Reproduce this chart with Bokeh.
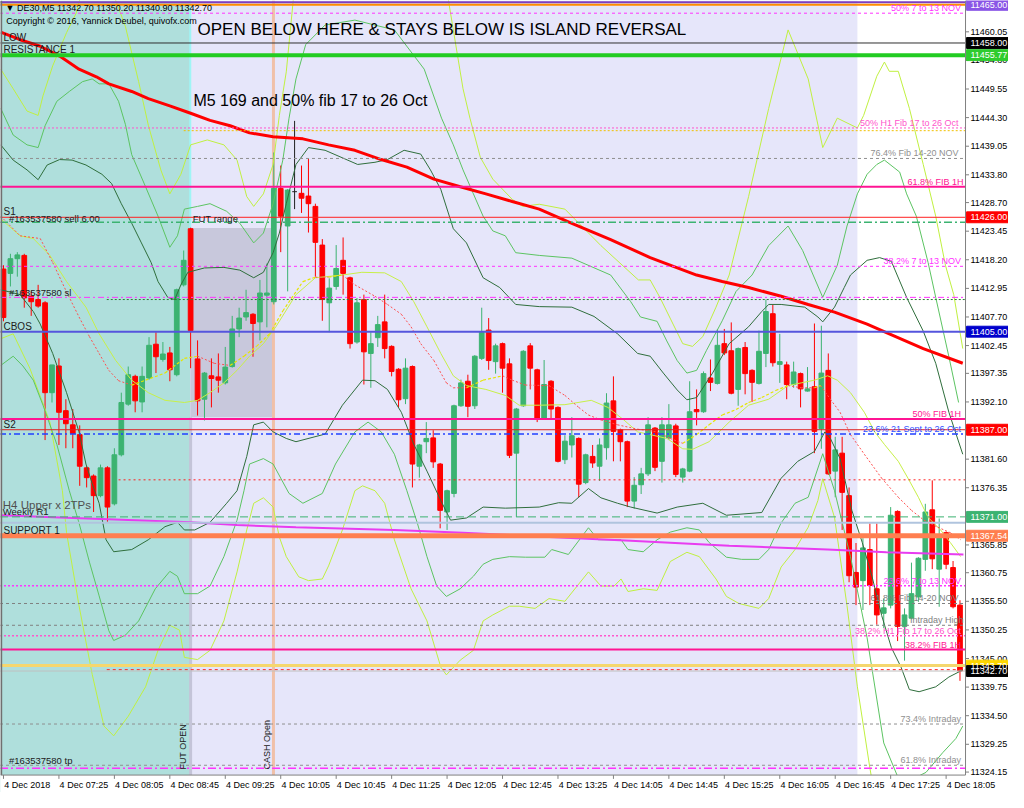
import numpy as np
from bokeh.plotting import figure
from bokeh.models import Range1d, BoxAnnotation, Label
from bokeh.core.properties import value
from bokeh.embed import file_html
from bokeh.resources import INLINE

# DE30 M5 candles, 4 Dec 2018 06:45 .. 18:15 (bar index 0..138)
opens = [11416.5, 11415.7, 11418.4, 11419.0, 11411.5, 11410.9, 11410.3, 11393.8, 11398.7, 11390.5,
         11387.9, 11386.1, 11380.0, 11378.5, 11374.9, 11380.0, 11373.4, 11382.4, 11391.7, 11396.8,
         11392.1, 11396.5, 11402.7, 11399.9, 11401.1, 11397.1, 11413.6, 11423.9, 11400.0, 11392.6,
         11396.9, 11396.7, 11395.6, 11398.6, 11405.5, 11407.7, 11408.2, 11406.8, 11411.7, 11410.5,
         11431.3, 11424.4, 11430.7, 11430.4, 11429.9, 11428.0, 11420.9, 11410.3, 11413.3, 11418.1,
         11414.9, 11403.1, 11410.9, 11401.0, 11403.9, 11406.8, 11402.3, 11398.1, 11392.7, 11398.6,
         11380.3, 11384.8, 11385.5, 11380.7, 11371.9, 11375.3, 11391.4, 11395.9, 11391.4, 11400.1,
         11405.3, 11399.5, 11402.8, 11399.1, 11382.7, 11391.4, 11402.4, 11398.0, 11389.1, 11395.9,
         11391.1, 11381.5, 11384.2, 11385.4, 11377.3, 11382.1, 11380.3, 11383.7, 11392.3, 11387.0,
         11384.8, 11373.9, 11376.9, 11378.9, 11387.3, 11381.2, 11385.5, 11387.7, 11378.3, 11379.4,
         11390.7, 11390.3, 11396.5, 11395.5, 11402.8, 11401.5, 11394.4, 11402.1, 11397.9, 11395.5,
         11401.0, 11408.3, 11399.0, 11398.9, 11395.3, 11397.3, 11394.1, 11394.9, 11387.2, 11397.9,
         11379.4, 11382.7, 11374.9, 11360.8, 11359.3, 11365.0, 11357.8, 11353.3, 11354.8, 11372.0,
         11350.9, 11352.4, 11356.3, 11363.2, 11372.3, 11361.4, 11368.1, 11361.7, 11354.8]
highs = [11417.2, 11419.3, 11419.6, 11419.3, 11412.4, 11413.6, 11410.6, 11398.9, 11400.1, 11392.6,
         11390.8, 11387.8, 11380.3, 11378.8, 11380.6, 11380.3, 11383.6, 11393.8, 11398.6, 11397.1,
         11398.6, 11404.0, 11404.9, 11403.1, 11402.2, 11412.9, 11419.9, 11424.1, 11403.4, 11397.6,
         11400.1, 11401.0, 11402.2, 11407.9, 11409.4, 11412.7, 11408.4, 11414.5, 11417.5, 11437.9,
         11435.5, 11431.2, 11443.7, 11435.5, 11436.7, 11428.5, 11422.0, 11414.8, 11420.9, 11422.3,
         11415.1, 11411.2, 11411.8, 11404.9, 11407.9, 11411.8, 11402.5, 11398.3, 11400.1, 11398.8,
         11384.4, 11388.4, 11386.9, 11380.9, 11376.0, 11391.6, 11396.2, 11397.1, 11400.7, 11409.4,
         11407.5, 11402.8, 11403.0, 11400.1, 11391.0, 11401.6, 11402.9, 11398.2, 11399.8, 11396.1,
         11391.3, 11386.0, 11389.3, 11385.6, 11382.6, 11384.2, 11385.4, 11393.7, 11396.8, 11387.2,
         11385.0, 11378.3, 11380.0, 11389.3, 11387.5, 11389.3, 11391.7, 11388.1, 11380.0, 11395.9,
         11394.4, 11397.7, 11399.9, 11405.5, 11405.5, 11406.7, 11402.1, 11403.1, 11398.1, 11405.2,
         11410.9, 11409.9, 11404.6, 11399.5, 11399.5, 11397.5, 11398.5, 11406.5, 11406.1, 11401.0,
         11385.7, 11385.7, 11376.4, 11366.2, 11367.1, 11369.8, 11369.8, 11356.0, 11372.8, 11372.2,
         11354.2, 11362.6, 11363.6, 11373.4, 11377.7, 11370.7, 11368.3, 11362.9, 11355.7]
lows = [11406.9, 11413.3, 11415.1, 11409.4, 11407.9, 11409.4, 11385.1, 11392.0, 11384.2, 11383.6,
        11383.6, 11376.7, 11376.4, 11371.9, 11374.6, 11370.1, 11373.1, 11382.1, 11391.4, 11390.2,
        11390.2, 11396.2, 11397.4, 11399.5, 11395.9, 11396.8, 11413.3, 11398.3, 11389.6, 11388.7,
        11391.1, 11393.8, 11395.3, 11398.4, 11404.0, 11407.0, 11400.4, 11403.4, 11405.8, 11410.0,
        11419.6, 11412.4, 11427.5, 11426.8, 11423.2, 11415.1, 11407.0, 11404.9, 11412.7, 11411.8,
        11401.9, 11402.8, 11395.3, 11394.7, 11402.2, 11400.1, 11396.8, 11391.1, 11391.7, 11376.4,
        11378.2, 11382.7, 11380.0, 11368.9, 11368.6, 11374.6, 11391.2, 11389.3, 11390.8, 11399.8,
        11398.0, 11397.3, 11393.8, 11381.8, 11371.0, 11391.2, 11394.4, 11388.4, 11389.0, 11389.0,
        11381.0, 11380.7, 11381.9, 11374.6, 11377.0, 11380.0, 11377.6, 11381.5, 11381.2, 11381.2,
        11372.8, 11372.5, 11375.2, 11378.5, 11379.4, 11377.3, 11385.1, 11378.3, 11377.3, 11379.2,
        11387.8, 11390.1, 11394.1, 11395.3, 11400.7, 11393.5, 11391.4, 11393.5, 11392.1, 11395.3,
        11398.5, 11398.6, 11395.6, 11392.6, 11394.7, 11391.1, 11394.0, 11382.7, 11383.5, 11378.7,
        11374.6, 11368.6, 11359.0, 11354.8, 11353.9, 11354.8, 11351.2, 11350.6, 11354.2, 11348.2,
        11344.6, 11352.2, 11355.4, 11361.1, 11361.4, 11354.5, 11361.4, 11354.2, 11340.9]
closes = [11407.6, 11418.4, 11419.1, 11411.2, 11410.5, 11409.7, 11393.8, 11398.9, 11390.2, 11388.1,
          11386.3, 11380.3, 11378.2, 11374.9, 11380.0, 11372.8, 11382.4, 11392.0, 11397.1, 11392.3,
          11396.8, 11402.5, 11400.4, 11400.9, 11398.0, 11412.7, 11418.1, 11405.2, 11392.3, 11397.4,
          11396.4, 11396.1, 11398.5, 11405.5, 11407.5, 11408.5, 11406.5, 11412.1, 11412.1, 11431.3,
          11426.2, 11431.0, 11430.7, 11429.5, 11428.5, 11421.4, 11410.9, 11413.0, 11416.6, 11415.7,
          11402.8, 11410.3, 11401.3, 11402.8, 11406.3, 11401.9, 11397.7, 11392.5, 11398.3, 11380.7,
          11384.2, 11385.4, 11381.1, 11372.2, 11375.8, 11391.4, 11395.6, 11391.3, 11400.5, 11404.9,
          11399.7, 11402.4, 11398.3, 11382.3, 11390.8, 11401.4, 11398.3, 11389.1, 11395.3, 11390.8,
          11381.2, 11384.9, 11385.9, 11377.0, 11382.4, 11380.9, 11384.2, 11391.9, 11386.7, 11384.8,
          11373.9, 11376.8, 11378.9, 11387.9, 11380.1, 11387.9, 11387.9, 11378.8, 11379.8, 11390.3,
          11390.3, 11397.3, 11395.7, 11402.5, 11401.1, 11393.7, 11401.9, 11397.3, 11395.7, 11401.4,
          11408.7, 11399.3, 11399.5, 11395.3, 11397.6, 11394.5, 11394.5, 11386.7, 11397.4, 11378.9,
          11383.3, 11375.5, 11360.2, 11358.1, 11365.3, 11358.4, 11353.0, 11354.3, 11371.3, 11350.9,
          11353.0, 11356.9, 11363.4, 11371.9, 11363.3, 11367.7, 11362.3, 11354.5, 11342.7]

# time axis: one label every 8 bars
tick_bars = list(range(0, 137, 8))
tick_labels = ["4 Dec 2018", "4 Dec 07:25", "4 Dec 08:05", "4 Dec 08:45", "4 Dec 09:25", "4 Dec 10:05",
               "4 Dec 10:45", "4 Dec 11:25", "4 Dec 12:05", "4 Dec 12:45", "4 Dec 13:25", "4 Dec 14:05",
               "4 Dec 14:45", "4 Dec 15:25", "4 Dec 16:05", "4 Dec 16:45", "4 Dec 17:25", "4 Dec 18:05"]

price_ticks = [11324.15, 11329.25, 11334.50, 11339.75, 11345.00, 11350.25, 11355.50, 11360.75, 11365.85,
               11371.10, 11376.35, 11381.60, 11386.85, 11392.10, 11397.35, 11402.45, 11407.70, 11412.95,
               11418.20, 11423.45, 11428.70, 11433.80, 11439.05, 11444.30, 11449.55, 11454.80, 11460.05]

# MA 169 (thick red)
ma169_x = [-0.4, 2.4, 5.3, 8.1, 10.9, 13.4, 15.2, 18.5, 20.9, 24.1, 27.0, 29.8, 32.7, 35.5, 38.9, 43.2,
           46.9, 50.7, 54.5, 58.2, 62.1, 65.9, 69.6, 73.4, 77.3, 82.0, 87.6, 93.3, 100.0, 103.7, 107.5,
           112.2, 116.1, 119.9, 124.6, 127.8, 132.7, 138.4]
ma169_y = [11460.0, 11458.6, 11457.4, 11455.6, 11453.2, 11451.8, 11450.5, 11449.1, 11447.8, 11446.4,
           11445.1, 11443.8, 11442.8, 11441.5, 11440.8, 11440.4, 11439.3, 11438.3, 11436.6, 11435.2,
           11433.0, 11431.6, 11430.3, 11428.9, 11427.5, 11424.9, 11421.9, 11418.6, 11415.4, 11414.2,
           11413.1, 11411.5, 11410.0, 11408.6, 11406.4, 11404.6, 11401.9, 11399.2]

# bands: dark green upper / lower
dgu_x = [-0.4, 1.4, 3.4, 5.0, 6.3, 8.1, 9.9, 11.9, 14.2, 15.6, 17.0, 18.5, 19.9, 21.3, 22.3, 23.7, 24.7,
         25.6, 26.6, 29.0, 31.8, 34.1, 36.1, 37.5, 38.9, 39.8, 40.8, 42.2, 44.0, 46.4, 51.1, 53.6, 55.4,
         57.8, 60.2, 61.6, 63.1, 64.9, 66.8, 69.2, 71.6, 73.9, 77.3, 82.0, 85.2, 88.6, 91.5, 93.3, 95.2,
         97.2, 98.6, 100.0, 102.3, 104.7, 107.5, 109.4, 110.4, 112.2, 115.6, 117.5, 118.2, 119.9, 121.3,
         122.2, 124.6, 126.4, 128.1, 130.3, 132.7, 134.5, 136.4, 138.4]
dgu_y = [11439.3, 11436.5, 11434.7, 11432.9, 11435.6, 11436.6, 11436.5, 11435.6, 11433.9, 11432.2,
         11428.5, 11424.9, 11421.3, 11417.7, 11414.2, 11411.3, 11410.9, 11413.6, 11415.9, 11416.7,
         11416.8, 11416.3, 11414.9, 11415.9, 11419.5, 11423.1, 11428.5, 11435.7, 11438.8, 11438.3,
         11435.7, 11436.1, 11436.6, 11438.3, 11437.6, 11434.7, 11431.1, 11423.9, 11421.3, 11414.9,
         11413.1, 11410.0, 11409.6, 11409.5, 11407.8, 11404.6, 11401.0, 11400.5, 11397.4, 11394.3,
         11392.5, 11392.9, 11397.4, 11402.8, 11405.9, 11408.7, 11410.0, 11410.0, 11409.5, 11407.7,
         11406.8, 11409.5, 11413.1, 11415.4, 11418.1, 11418.6, 11417.9, 11411.3, 11405.1, 11399.2,
         11390.2, 11382.5]
dgl_x = [-0.4, 2.4, 4.3, 5.3, 7.1, 9.1, 10.9, 11.9, 12.8, 13.8, 14.8, 15.9, 18.5, 20.9, 23.3, 25.1,
         26.1, 27.6, 29.8, 32.2, 33.7, 35.1, 36.1, 37.5, 38.9, 40.8, 42.2, 46.4, 48.9, 51.8, 53.6, 55.4,
         57.4, 59.2, 61.1, 63.1, 64.5, 66.8, 69.2, 72.4, 77.3, 80.1, 82.0, 84.4, 86.2, 88.6, 90.5, 94.3,
         97.2, 100.9, 104.3, 109.4, 112.2, 114.6, 117.0, 118.5, 119.3, 120.7, 122.4, 123.9, 125.3, 126.7,
         128.1, 129.5, 130.7, 132.1, 134.5, 136.4, 138.4]
dgl_y = [11412.7, 11411.8, 11408.7, 11406.4, 11401.0, 11393.8, 11386.6, 11380.7, 11377.1, 11373.5,
         11366.8, 11364.6, 11365.0, 11366.8, 11369.2, 11370.0, 11368.6, 11368.6, 11370.0, 11373.5,
         11375.8, 11382.1, 11387.9, 11388.4, 11386.6, 11385.4, 11384.8, 11386.2, 11391.5, 11396.1,
         11396.0, 11394.4, 11390.2, 11384.3, 11379.4, 11374.0, 11370.4, 11370.8, 11372.8, 11372.6,
         11372.8, 11373.6, 11373.5, 11376.2, 11374.5, 11373.5, 11372.8, 11371.7, 11372.8, 11373.5,
         11371.3, 11371.8, 11378.1, 11381.2, 11383.0, 11386.6, 11385.4, 11381.7, 11372.2, 11366.3,
         11360.1, 11352.9, 11347.0, 11343.4, 11339.3, 11338.9, 11339.8, 11341.6, 11342.9]

# bands: medium green upper / lower
mgu_x = [-0.4, 1.4, 3.4, 5.0, 6.0, 7.7, 9.5, 11.4, 12.8, 13.8, 15.2, 16.6, 17.6, 18.5, 20.5, 22.3, 24.0,
         25.1, 26.1, 28.0, 29.8, 32.2, 34.1, 36.1, 37.5, 38.9, 40.3, 41.2, 42.2, 43.6, 46.4, 50.7, 56.4,
         60.7, 63.2, 64.9, 66.3, 67.8, 69.2, 70.6, 72.4, 73.9, 77.3, 82.0, 87.6, 90.5, 91.9, 94.3, 95.7,
         97.2, 98.6, 100.0, 101.4, 103.7, 105.7, 108.0, 110.4, 113.2, 115.3, 118.2, 120.3, 121.7, 123.2,
         124.6, 126.0, 127.1, 129.3, 130.3, 131.7, 133.4, 134.5, 136.4, 137.8]
mgu_y = [11446.0, 11441.1, 11439.3, 11438.8, 11442.8, 11447.3, 11449.1, 11450.9, 11451.4, 11450.5,
         11450.5, 11447.3, 11443.0, 11437.5, 11431.6, 11426.2, 11420.5, 11422.6, 11427.5, 11428.0,
         11428.5, 11427.1, 11424.9, 11421.3, 11423.1, 11428.5, 11436.5, 11444.2, 11451.4, 11457.7,
         11461.3, 11462.2, 11460.4, 11453.2, 11444.2, 11439.3, 11434.7, 11430.3, 11426.2, 11423.5,
         11422.6, 11419.5, 11419.0, 11418.5, 11415.4, 11410.5, 11407.7, 11406.9, 11403.3, 11399.7,
         11397.4, 11397.9, 11401.5, 11407.0, 11412.4, 11415.4, 11420.8, 11424.4, 11419.9, 11411.3,
         11417.2, 11424.4, 11430.3, 11433.9, 11435.7, 11436.5, 11434.3, 11430.3, 11426.2, 11417.7,
         11411.3, 11400.4, 11392.0]
mgl_x = [-0.4, 1.4, 2.8, 4.3, 5.7, 7.7, 9.5, 10.9, 12.4, 13.8, 15.2, 15.9, 17.6, 19.5, 21.9, 24.0, 25.1,
         26.1, 28.0, 29.8, 31.8, 33.7, 34.7, 35.5, 37.5, 38.9, 41.2, 43.2, 46.0, 47.9, 50.7, 52.6, 54.5,
         56.4, 58.2, 59.7, 61.1, 62.5, 63.9, 65.9, 67.8, 69.2, 70.6, 73.0, 75.3, 78.1, 79.1, 81.5, 84.4,
         85.8, 89.1, 90.1, 92.3, 94.3, 96.2, 98.6, 100.4, 101.8, 104.3, 106.5, 109.0, 110.4, 112.2, 114.2,
         116.1, 118.2, 119.9, 122.2, 124.6, 127.0, 129.5, 133.1, 135.5, 137.4, 138.4]
mgl_y = [11398.8, 11400.5, 11398.7, 11396.1, 11391.5, 11384.3, 11375.8, 11369.9, 11362.7, 11356.5,
         11350.1, 11348.3, 11349.3, 11351.9, 11357.8, 11361.0, 11360.1, 11356.9, 11356.9, 11358.3,
         11363.7, 11370.4, 11375.8, 11380.7, 11381.7, 11380.7, 11375.3, 11373.5, 11375.3, 11380.7,
         11386.6, 11388.4, 11386.6, 11382.5, 11375.8, 11369.9, 11363.7, 11358.3, 11356.4, 11357.8,
         11360.1, 11362.3, 11363.2, 11363.7, 11363.6, 11363.6, 11365.0, 11364.1, 11369.0, 11366.8,
         11366.8, 11365.0, 11364.6, 11366.8, 11368.2, 11369.0, 11368.6, 11366.3, 11363.6, 11363.2,
         11363.2, 11365.0, 11369.9, 11373.5, 11374.6, 11382.6, 11375.8, 11363.7, 11348.8, 11329.5,
         11321.8, 11324.1, 11327.7, 11330.3, 11332.6]

# bands: light (yellow-green) upper / lower
lu_x = [-0.4, 1.4, 3.4, 5.0, 5.7, 7.1, 9.1, 10.5, 11.5, 15.2, 16.2, 17.6, 19.5, 20.9, 22.7, 24.0, 25.6,
        27.0, 29.4, 31.8, 33.7, 35.1, 36.1, 37.5, 38.9, 39.8, 40.8, 41.8, 42.9, 62.1, 64.2, 66.3, 67.3,
        68.8, 70.6, 73.4, 74.9, 77.3, 81.0, 86.2, 91.6, 93.3, 94.7, 96.6, 98.0, 99.4, 100.9, 102.8,
        104.7, 107.5, 110.4, 113.2, 116.1, 118.2, 120.3, 123.2, 124.1, 126.0, 127.1, 127.8, 129.1,
        130.7, 132.7, 134.5, 135.9, 137.1, 138.4]
lu_y = [11453.2, 11449.6, 11445.5, 11444.7, 11448.3, 11453.8, 11459.9, 11463.5, 11468.5, 11468.5,
        11465.8, 11461.0, 11450.9, 11442.9, 11434.7, 11430.3, 11433.9, 11439.3, 11440.2, 11439.3,
        11436.5, 11429.8, 11428.0, 11430.3, 11435.7, 11444.7, 11452.7, 11465.8, 11471.2, 11471.2,
        11465.8, 11449.6, 11444.2, 11437.0, 11433.0, 11429.3, 11428.0, 11428.4, 11427.5, 11420.8,
        11414.5, 11414.5, 11411.3, 11406.4, 11402.8, 11402.3, 11404.1, 11409.5, 11415.4, 11429.8,
        11446.0, 11460.4, 11451.4, 11438.8, 11444.2, 11442.4, 11444.7, 11451.9, 11454.5, 11452.8,
        11452.8, 11446.0, 11435.7, 11426.2, 11417.2, 11411.8, 11401.9]
ll_x = [-0.4, 1.4, 3.8, 6.7, 8.5, 9.1, 10.9, 12.8, 14.5, 15.9, 18.0, 20.5, 22.3, 24.0, 25.4, 26.1, 28.0,
        29.8, 31.8, 33.7, 35.1, 36.1, 37.5, 38.9, 39.8, 40.8, 42.6, 44.0, 46.0, 46.9, 48.9, 50.7, 51.8,
        53.6, 55.0, 56.4, 58.8, 61.1, 63.1, 63.9, 65.9, 67.8, 69.2, 70.6, 73.0, 74.4, 76.7, 78.7, 81.0,
        84.4, 86.2, 88.1, 89.1, 90.1, 92.3, 94.3, 96.2, 98.6, 100.4, 102.8, 104.3, 106.1, 109.0, 110.4,
        112.2, 114.2, 116.1, 117.5, 118.2, 119.9, 121.7, 123.2, 125.0, 126.4]
ll_y = [11403.7, 11404.6, 11398.3, 11388.4, 11375.8, 11368.1, 11354.7, 11342.1, 11332.6, 11330.8,
        11334.4, 11339.8, 11346.5, 11351.1, 11350.2, 11345.2, 11344.8, 11346.5, 11351.9, 11360.9,
        11368.6, 11373.5, 11374.5, 11372.8, 11367.3, 11363.7, 11360.0, 11359.3, 11359.6, 11362.0,
        11368.6, 11375.8, 11376.7, 11375.8, 11373.5, 11366.8, 11357.8, 11351.9, 11343.4, 11342.0,
        11344.7, 11346.5, 11351.9, 11353.0, 11354.6, 11354.6, 11354.2, 11356.0, 11355.5, 11360.9,
        11358.3, 11358.3, 11359.6, 11357.3, 11357.8, 11357.5, 11362.8, 11364.5, 11363.7, 11359.6,
        11356.4, 11355.1, 11354.2, 11356.0, 11361.8, 11365.0, 11369.1, 11374.0, 11378.0, 11370.9,
        11354.7, 11339.8, 11324.9, 11314.6]

# middle MA (yellow-green) and fast MA (red falling / yellow rising)
mid_x = [-0.4, 2.4, 4.3, 6.7, 9.1, 11.9, 13.8, 16.2, 18.5, 20.9, 23.3, 26.1, 28.0, 29.8, 31.8, 33.7, 35.5,
         37.5, 39.3, 42.2, 45.0, 48.9, 51.7, 55.0, 57.4, 59.2, 61.1, 63.1, 64.9, 66.8, 69.6, 72.4, 74.4,
         77.3, 81.0, 84.8, 87.2, 89.5, 91.5, 93.3, 95.7, 98.0, 99.4, 101.8, 104.7, 107.5, 110.4, 113.2,
         115.1, 117.0, 118.9, 120.3, 122.2, 124.2, 125.7, 127.1, 129.1, 130.5, 132.0, 133.4, 135.2, 136.6,
         138.1]
mid_y = [11425.7, 11422.6, 11422.1, 11419.0, 11414.2, 11409.5, 11404.6, 11399.7, 11396.1, 11393.8,
         11392.4, 11392.0, 11392.4, 11393.8, 11395.6, 11397.9, 11400.5, 11402.8, 11405.9, 11411.8,
         11414.9, 11415.4, 11415.9, 11415.8, 11414.2, 11410.5, 11405.9, 11401.0, 11396.9, 11395.1,
         11394.4, 11393.3, 11391.5, 11391.5, 11391.6, 11392.4, 11391.1, 11388.8, 11386.6, 11386.1,
         11385.4, 11383.5, 11383.4, 11384.8, 11388.4, 11391.5, 11392.6, 11395.1, 11395.6, 11396.1,
         11396.9, 11396.1, 11393.8, 11390.2, 11386.6, 11384.3, 11381.2, 11378.1, 11374.6, 11370.9,
         11368.6, 11366.3, 11363.7]
fast_x = [-0.4, 2.4, 5.3, 7.1, 9.1, 10.9, 12.4, 13.8, 15.2, 16.6, 18.5, 20.5, 23.3, 26.1, 28.0, 30.4,
          32.7, 34.7, 36.5, 38.4, 40.3, 43.2, 45.0, 46.9, 48.9, 50.7, 53.6, 55.4, 57.4, 58.8, 60.2, 62.1,
          63.9, 64.9, 66.8, 69.2, 72.0, 73.4, 75.3, 78.7, 81.0, 83.0, 84.4, 86.2, 88.6, 91.5, 94.3, 96.2,
          98.0, 100.0, 101.8, 103.7, 105.7, 107.5, 109.4, 111.4, 113.2, 115.1, 117.0, 117.9, 119.3, 120.7,
          122.2, 124.2, 126.7, 129.1, 131.0, 132.8, 134.8, 136.6, 138.1]
fast_y = [11426.2, 11422.6, 11422.1, 11417.7, 11412.3, 11407.7, 11404.1, 11401.0, 11397.9, 11396.0,
          11395.2, 11396.1, 11397.4, 11400.1, 11400.5, 11399.2, 11398.8, 11400.5, 11402.3, 11404.6,
          11408.8, 11414.2, 11415.0, 11415.0, 11415.4, 11413.6, 11411.5, 11410.0, 11408.2, 11405.9,
          11402.8, 11399.7, 11395.6, 11394.7, 11394.7, 11396.1, 11396.9, 11396.1, 11395.2, 11395.1,
          11393.3, 11391.1, 11389.7, 11388.8, 11387.9, 11387.1, 11386.6, 11385.4, 11384.5, 11386.1,
          11387.9, 11389.7, 11390.7, 11392.0, 11392.9, 11394.2, 11395.1, 11394.7, 11394.7, 11395.1,
          11392.6, 11390.2, 11386.1, 11382.5, 11378.1, 11374.6, 11372.2, 11370.4, 11369.1, 11368.1,
          11366.8]

# weekly R1 (stepped magenta)
wr1_x = [-0.4, 8.1, 27.0, 33.7, 42.2, 56.4, 66.3, 75.6, 90.5, 104.7, 118.9, 127.4, 138.5]
wr1_y = [11371.3, 11370.9, 11370.0, 11369.5, 11369.1, 11368.6, 11368.1, 11367.5, 11366.6, 11365.7,
         11365.0, 11364.5, 11364.1]

# horizontal levels
level_names = ["top_purple", "top_orange", "nov50", "low", "res1", "h1fib50", "h1fib50_y", "fib764",
               "fib1h618", "s1", "s1_dd", "nov382", "sl_dd", "sl", "cbos", "fib1h50", "s2", "sept236",
               "sell_dot", "r1_dash", "h4_upper", "support1", "nov236", "fib618", "intraday_high",
               "h1fib382", "fib1h382", "ask", "sell_dash", "bid", "intra734", "intra618", "tp"]
level_prices = [11465.5, 11465.0, 11463.47, 11458.00, 11455.77, 11442.4, 11441.9, 11436.8,
                11431.6, 11426.00, 11425.1, 11417.0, 11411.3, 11410.9, 11405.00, 11388.95, 11387.00, 11386.2,
                11377.8, 11371.00, 11369.9, 11367.54, 11358.35, 11355.1, 11351.1,
                11349.2, 11346.65, 11343.7, 11342.95, 11342.70, 11332.97, 11325.4, 11324.87]

right_texts = {"nov50": "50%  7 to 13 NOV", "h1fib50": "50%   H1 Fib 17 to 26 Oct",
               "fib764": "76.4%  Fib 14-20  NOV", "fib1h618": "61.8% FIB 1H", "nov382": "38.2%  7 to 13 NOV",
               "fib1h50": "50%  FIB 1H", "sept236": "23.6%  21 Sept to 26 Oct",
               "nov236": "23.6%  7 to 13 NOV", "fib618": "61.8%  Fib 14-20  NOV",
               "intraday_high": "Intraday High", "h1fib382": "38.2%  H1 Fib 17 to 26 Oct",
               "fib1h382": "38.2%  FIB 1H", "intra734": "73.4%  Intraday", "intra618": "61.8%  Intraday"}
left_texts = {"low": "LOW", "res1": "RESISTANCE 1", "s1": "S1", "cbos": "CBOS", "s2": "S2",
              "support1": "SUPPORT 1"}

tag_prices = [11465.00, 11458.00, 11455.77, 11426.00, 11405.00, 11387.00, 11371.00, 11367.54, 11343.70, 11342.70]
tag_colors = ["#8a55e6", "#000000", "#2ecc2e", "#ff0000", "#0000cc", "#ff0000", "#3cb371", "#ff7f50",
              "#ffd700", "#000000"]

# line styles: colour, dash, width, first bar
PINK = "#ff33ff"
style = {
    "top_purple": ("#7d3fc0", "solid", 2, -0.5), "top_orange": ("#ff8c00", "solid", 2, -0.5),
    "nov50": (PINK, "3 3", 1, -0.5), "low": ("#303030", "solid", 1, -0.5),
    "res1": ("#22cc22", "solid", 4, -0.5), "h1fib50": ("#ff55cc", "2 2", 1, -0.5),
    "h1fib50_y": ("#f0c000", "2 2", 1, 26), "fib764": ("#909090", "3 3", 1, -0.5),
    "fib1h618": ("#ff1493", "solid", 2, -0.5), "s1": ("#ff2020", "solid", 1, -0.5),
    "s1_dd": ("#3cb371", "8 3 2 3", 1.5, -0.5), "nov382": (PINK, "3 3", 1, -0.5),
    "sl_dd": (PINK, "6 3 2 3", 1, -0.5), "sl": ("#2e7d32", "2 2", 1, 14.9),
    "cbos": ("#5555dd", "solid", 2, -0.5), "fib1h50": ("#ff1493", "solid", 2, -0.5),
    "s2": ("#e02020", "solid", 1, -0.5), "sept236": ("#2040ff", "6 3 2 3", 1.5, -0.5),
    "sell_dot": ("#ff2020", "2 3", 1, 16.6), "r1_dash": ("#3cb371", "8 4", 1, -0.5),
    "h4_upper": ("#b0c4de", "solid", 2, -0.5), "support1": ("#ff7f50", "solid", 5, -0.5),
    "nov236": (PINK, "2 2", 1.5, -0.5), "fib618": ("#808080", "3 3", 1, -0.5),
    "intraday_high": ("#808080", "3 3", 1, -0.5), "h1fib382": ("#ff55cc", "2 2", 1.5, -0.5),
    "fib1h382": ("#ff1493", "solid", 2, -0.5), "ask": ("#f5d76e", "solid", 3, -0.5),
    "sell_dash": ("#ff2020", "3 3", 1, 14.9), "bid": ("#c0c0c0", "solid", 1, -0.5),
    "intra734": ("#909090", "3 3", 1, -0.5), "intra618": ("#909090", "3 3", 1, -0.5),
    "tp": (PINK, "8 3 2 3", 1.5, -0.5),
}

X0, X1, XR = -0.43, 138.8, 145.0    # XR: right edge of the price-scale strip
YB, Y0, Y1 = 11320.4, 11323.6, 11465.8  # YB: bottom of the time-scale strip
FONT = "Liberation Sans"

p = figure(width=1008, height=792, x_range=Range1d(X0, XR), y_range=Range1d(YB, Y1),
           x_axis_location=None, y_axis_location=None,
           toolbar_location=None, output_backend="svg",
           min_border_left=0, min_border_right=0, min_border_top=0, min_border_bottom=0,
           background_fill_color="white", border_fill_color="white", outline_line_color=None)
p.xgrid.visible = False
p.ygrid.visible = False

# session backgrounds
p.add_layout(BoxAnnotation(left=X0, right=26.95, fill_color="#afdfdc", fill_alpha=1,
                           line_color=None, level="underlay"))
p.add_layout(BoxAnnotation(left=26.95, right=123.2, fill_color="#e6e6fa", fill_alpha=1,
                           line_color=None, level="underlay"))
p.add_layout(BoxAnnotation(left=26.95, right=38.9, bottom=11389.3, top=11424.05, fill_color="#c8c8dc",
                           fill_alpha=1, line_color=None, level="underlay"))

# session markers
p.segment(x0=[26.95], y0=[11424.05], x1=[26.95], y1=[Y1], color="#9ff5f5", line_width=2)
p.segment(x0=[27.0], y0=[Y0], x1=[27.0], y1=[11389.3], color="#c4c4d8", line_width=3)
p.segment(x0=[38.95], y0=[Y0], x1=[38.95], y1=[Y1], color="#f0c0a8", line_width=3)

# candles
idx = np.arange(len(opens))
o = np.array(opens); h = np.array(highs); l = np.array(lows); c = np.array(closes)
up = c > o
dn = c < o
fl = c == o
GREEN, RED = "#3cb371", "#ff0000"
p.segment(idx[up], h[up], idx[up], l[up], color=GREEN, line_width=1)
p.segment(idx[dn], h[dn], idx[dn], l[dn], color=RED, line_width=1)
p.segment(idx[fl], h[fl], idx[fl], l[fl], color="#202020", line_width=1)
p.vbar(x=idx[up], width=0.68, top=c[up], bottom=o[up], fill_color=GREEN, line_color=GREEN)
p.vbar(x=idx[dn], width=0.68, top=o[dn], bottom=c[dn], fill_color=RED, line_color=RED)
p.segment(idx[fl] - 0.34, o[fl], idx[fl] + 0.34, o[fl], color="#202020", line_width=1)

# indicator lines
p.line(lu_x, lu_y, color="#c0f040", line_width=1)
p.line(ll_x, ll_y, color="#c0f040", line_width=1)
p.line(mgu_x, mgu_y, color="#5cc462", line_width=1)
p.line(mgl_x, mgl_y, color="#5cc462", line_width=1)
p.line(dgu_x, dgu_y, color="#2f6e3c", line_width=1)
p.line(dgl_x, dgl_y, color="#2f6e3c", line_width=1)
p.line(mid_x, mid_y, color="#c8f048", line_width=1)
fx = np.array(fast_x); fy = np.array(fast_y)
rise = fy[1:] > fy[:-1]
p.segment(fx[:-1][~rise], fy[:-1][~rise], fx[1:][~rise], fy[1:][~rise], color="#ff5050",
          line_width=1, line_dash="2 2")
p.segment(fx[:-1][rise], fy[:-1][rise], fx[1:][rise], fy[1:][rise], color="#e6e600",
          line_width=1.2, line_dash="3 2")
p.line(wr1_x, wr1_y, color="#e83cf0", line_width=2)
p.line(ma169_x, ma169_y, color="#ff0000", line_width=3)

# horizontal levels
for name, price in zip(level_names, level_prices):
    col, dash, w, start = style[name]
    p.segment(x0=[start], y0=[price], x1=[X1], y1=[price], color=col, line_dash=dash, line_width=w)

# level captions
rt = [n for n in level_names if n in right_texts]
rcol = {"sept236": "#3050ff"}
p.text(x=[138.5] * len(rt), y=[level_prices[level_names.index(n)] for n in rt],
       text=[right_texts[n] for n in rt],
       text_color=[rcol.get(n, style[n][0]) for n in rt],
       text_font=value(FONT), text_font_size="9px", text_align="right", text_baseline="bottom")
lt = [n for n in level_names if n in left_texts]
p.text(x=[0.0] * len(lt), y=[level_prices[level_names.index(n)] for n in lt],
       text=[left_texts[n] for n in lt], text_color="#202020",
       text_font=value(FONT), text_font_size="10px", text_align="left", text_baseline="bottom")

misc_text = ["#163537580 sell 6.00", "#163537580 sl", "#163537580 tp", "FUT range", "Weekly R1"]
misc_x = [0.8, 0.8, 0.8, 27.3, -0.1]
misc_y = [11425.85, 11412.2, 11326.3, 11425.7, 11372.0]
p.text(x=misc_x, y=misc_y, text=misc_text, text_color="#202020", text_font=value(FONT),
       text_font_size="9.5px", text_align="left", text_baseline="middle")
p.text(x=[-0.1], y=[11373.2], text=["H4 Upper x 2TPs"], text_color="#505050", text_font=value(FONT),
       text_font_size="11.5px", text_align="left", text_baseline="middle")

header = ["\u25bc DE30,M5  11342.70 11350.20 11340.90 11342.70",
          "Copyright \u00a9 2016, Yannick Deubel, quivofx.com"]
p.text(x=[0.3, 0.4], y=[11464.4, 11462.0], text=header, text_color="#000000", text_font=value(FONT),
       text_font_size="9px", text_align="left", text_baseline="middle")

p.text(x=[28.0], y=[11460.4], text=["OPEN BELOW HERE & STAYS BELOW IS ISLAND REVERSAL"],
       text_color="#000000", text_font=value(FONT), text_font_size="17px", text_align="left",
       text_baseline="middle")
p.text(x=[27.4], y=[11447.4], text=["M5 169 and 50% fib 17 to 26 Oct"],
       text_color="#000000", text_font=value(FONT), text_font_size="16px", text_align="left",
       text_baseline="middle")

for txt, xb in [("FUT OPEN", 26.65), ("CASH Open", 38.75)]:
    p.add_layout(Label(x=xb, y=11324.6, text=txt, angle=np.pi / 2, text_align="left",
                       text_baseline="bottom", text_font=FONT, text_font_size="9px",
                       text_color="#202020"))

# price-scale and time-scale strips, drawn by hand
p.quad(left=[X1, X0], right=[XR, XR], bottom=[YB, YB], top=[Y1, Y0], fill_color="white", line_color=None)
p.segment(x0=[X1], y0=[Y0], x1=[X1], y1=[Y1], color="#808080", line_width=1)
p.segment(x0=[X0 + 0.1], y0=[Y0], x1=[X0 + 0.1], y1=[Y1], color="#707070", line_width=2)
p.segment(x0=[X0], y0=[Y0], x1=[X1], y1=[Y0], color="#808080", line_width=1)
p.segment(x0=[X1] * len(price_ticks), y0=price_ticks, x1=[X1 + 0.5] * len(price_ticks), y1=price_ticks,
          color="#808080", line_width=1)
p.text(x=[X1 + 0.7] * len(price_ticks), y=price_ticks, text=[f"{v:.2f}" for v in price_ticks],
       text_color="#000000", text_font=value(FONT), text_font_size="9px", text_align="left",
       text_baseline="middle")
p.quad(left=[X1 + 0.15] * len(tag_prices), right=[XR - 0.05] * len(tag_prices),
       bottom=[v - 1.0 for v in tag_prices], top=[v + 1.0 for v in tag_prices],
       fill_color=tag_colors, line_color=tag_colors)
p.text(x=[X1 + 0.7] * len(tag_prices), y=tag_prices, text=[f"{v:.2f}" for v in tag_prices],
       text_color="white", text_font=value(FONT), text_font_size="9px", text_align="left",
       text_baseline="middle")
p.segment(x0=tick_bars, y0=[Y0] * len(tick_bars), x1=tick_bars, y1=[Y0 - 0.7] * len(tick_bars),
          color="#808080", line_width=1)
p.text(x=[b + 0.1 for b in tick_bars], y=[Y0 - 0.9] * len(tick_bars), text=tick_labels,
       text_color="#000000", text_font=value(FONT), text_font_size="9px", text_align="left",
       text_baseline="top")

open("out.html", "w").write(file_html(p, INLINE))
